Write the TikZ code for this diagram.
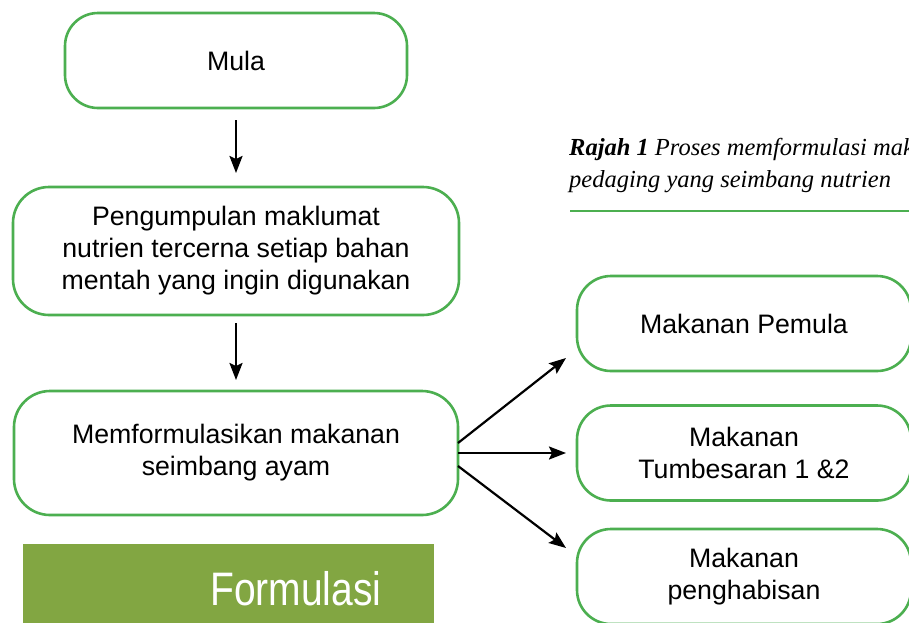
\documentclass[tikz,border=0pt]{standalone}
\usepackage{fontspec}
\setmainfont{Liberation Sans}
\newfontfamily\capfont{Liberation Serif}
\newfontfamily\narrowfont[FakeStretch=0.83]{Liberation Sans}
\usetikzlibrary{arrows.meta,calc}
\definecolor{boxgreen}{RGB}{76,175,80}
\definecolor{bannergreen}{RGB}{130,166,66}
\tikzset{
  flowbox/.style={draw=boxgreen, line width=2.6pt, fill=white, align=center,
    inner sep=0pt, outer sep=0pt, font=\fontsize{26.7}{32}\selectfont},
  arr/.style={line width=2.2pt, -{Stealth[length=17pt,width=13pt,inset=3pt]}},
}
\begin{document}
\begin{tikzpicture}[x=1pt,y=-1pt]
\useasboundingbox (0,0) rectangle (909,622);
\clip (0,0) rectangle (909,622);
\fill[white] (0,0) rectangle (909,622);

\node[flowbox, minimum width=342pt, minimum height=95pt, rounded corners=33pt] (mula) at (236,60.5) {Mula};
\node[flowbox, minimum width=446pt, minimum height=128pt, rounded corners=36pt] (coll) at (236,251) {Pengumpulan maklumat\\nutrien tercerna setiap bahan\\mentah yang ingin digunakan};
\node[flowbox, minimum width=444pt, minimum height=124pt, rounded corners=36pt] (form) at (236,453) {Memformulasikan makanan\\seimbang ayam};

\node[flowbox, minimum width=334pt, minimum height=95pt, rounded corners=34pt] (b1) at (744,323.5) {Makanan Pemula};
\node[flowbox, minimum width=334pt, minimum height=95pt, rounded corners=34pt] (b2) at (744,453) {Makanan\\Tumbesaran 1 \&2};
\node[flowbox, minimum width=334pt, minimum height=95pt, rounded corners=34pt] (b3) at (744,576.5) {Makanan\\penghabisan};

\draw[arr, shorten <=12pt, shorten >=14pt] (mula.south) -- (coll.north);
\draw[arr, shorten <=8pt, shorten >=11pt] (coll.south) -- (form.north);
\draw[arr] ($(form.east)+(0,-10)$) -- ($(b1.west)+(-11,34.5)$);
\draw[arr] (form.east) -- ($(b2.west)+(-11,0)$);
\draw[arr] ($(form.east)+(0,13)$) -- ($(b3.west)+(-11,-28.5)$);

\node[anchor=base west, inner sep=0pt, font=\capfont\itshape\fontsize{24.5}{32}\selectfont, align=left] (cap) at (569,187)
  {\textbf{Rajah 1} Proses memformulasi makanan\\pedaging yang seimbang nutrien};
\coordinate (capL) at (570,211);
\coordinate (capR) at (912,211);
\draw[boxgreen, line width=2.5pt] (capL) -- (capR);

\node[fill=bannergreen, draw=none, minimum width=411pt, minimum height=100pt, inner sep=0pt, outer sep=0pt, anchor=north west] (banner) at (23,544) {};
\node[anchor=base west, inner sep=0pt, text=white, font=\narrowfont\fontsize{47}{56}\selectfont] (btext) at (210,605) {Formulasi};
\end{tikzpicture}
\end{document}
